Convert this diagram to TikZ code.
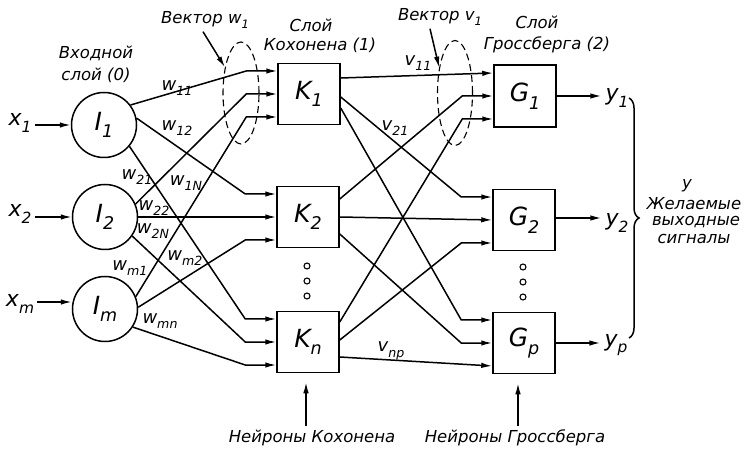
\documentclass[tikz,border=0pt]{standalone}
\usepackage{fontspec}
\usepackage{graphicx}
\setmainfont{DejaVu Sans}[ItalicFont={DejaVu Sans Oblique}]
\usetikzlibrary{arrows.meta,shapes.geometric,decorations.pathreplacing,calc}
\newcommand\lowsub[1]{\raisebox{-0.3em}{\scalebox{0.7}{#1}}}
\newcommand\fs[1]{\fontsize{#1}{#1}\selectfont\itshape}
\begin{document}
\begin{tikzpicture}[x=1pt,y=-1pt,
 arr/.style={line width=1.5pt,-{Latex[length=11pt,width=5.5pt]}},
 neur/.style={circle,draw,line width=1.5pt,minimum size=65pt,inner sep=0pt,font=\fs{25}},
 unit/.style={rectangle,draw,line width=1.5pt,minimum width=62pt,minimum height=61pt,inner sep=0pt,font=\fs{25}},
 lab/.style={inner sep=0pt,font=\fs{16.5}},
 wl/.style={inner sep=0pt,font=\fs{18}},
 sig/.style={inner sep=1pt,font=\fs{22}},
 dot/.style={circle,draw,line width=1.1pt,minimum size=6pt,inner sep=0pt},
 vec/.style={ellipse,draw,dash pattern=on 7pt off 4pt,line width=1.1pt,minimum width=36pt,minimum height=102pt,inner sep=0pt},
 brc/.style={line width=1.5pt,decorate,decoration={brace,amplitude=10pt}}
]
\useasboundingbox (0,0) rectangle (755,462);

% neurons
\node[neur] (I1) at (104,125) {I\lowsub{1}};
\node[neur] (I2) at (105,217) {I\lowsub{2}};
\node[neur] (Im) at (105,309) {I\lowsub{m}};
\node[unit] (K1) at (309,94) {K\lowsub{1}};
\node[unit] (K2) at (308,217) {K\lowsub{2}};
\node[unit] (Kn) at (308,342) {K\lowsub{n}};
\node[unit,minimum height=62pt] (G1) at (525,96) {G\lowsub{1}};
\node[unit] (G2) at (524,220) {G\lowsub{2}};
\node[unit] (Gp) at (524,343) {G\lowsub{p}};

\foreach \b in {K1,K2,Kn,G1,G2,Gp}{
 \coordinate (\b-a) at ($(\b.west)+(0,-23)$);
 \coordinate (\b-b) at (\b.west);
 \coordinate (\b-c) at ($(\b.west)+(0,23)$);
 \coordinate (\b-A) at ($(\b.west)+(-31,-23)$);
 \coordinate (\b-B) at ($(\b.west)+(-31,0)$);
 \coordinate (\b-C) at ($(\b.west)+(-31,23)$);
}

% inputs
\node[sig] (x1) at (20,123) {x\lowsub{1}};
\node[sig] (x2) at (20,214) {x\lowsub{2}};
\node[sig] (xm) at (20,304) {x\lowsub{m}};
\draw[arr] ([xshift=2pt]I1.west -| x1.east) -- (I1.west);
\draw[arr] ([xshift=2pt]I2.west -| x2.east) -- (I2.west);
\draw[arr] ([xshift=2pt,yshift=2pt]xm.east) -- ([yshift=2pt]xm.east -| Im.west);

% input layer -> Kohonen
\draw[arr] (I1.37) -- (K1-A) -- (K1-a);
\draw[arr] (I1.12) -- (K2-A) -- (K2-a);
\draw[arr] (I1.-40) -- (Kn-A) -- (Kn-a);
\draw[arr] (I2.23) -- (K1-B) -- (K1-b);
\draw[arr] (I2.0) -- (K2-b);
\draw[arr] (I2.-35) -- (Kn-B) -- (Kn-b);
\draw[arr] (Im.22) -- (K1-C) -- (K1-c);
\draw[arr] (Im.3) -- (K2-C) -- (K2-c);
\draw[arr] (Im.-33) -- (Kn-C) -- (Kn-c);

% Kohonen -> Grossberg
\draw[arr] ($(K1.east)+(0,-16)$) -- (G1-a);
\draw[arr] ($(K1.east)+(0,3)$) -- (G2-A) -- (G2-a);
\draw[arr] ($(K1.east)+(0,14)$) -- (Gp-A) -- (Gp-a);
\draw[arr] ($(K2.east)+(0,-18)$) -- (G1-B) -- (G1-b);
\draw[arr] (K2.east) -- (G2-b);
\draw[arr] ($(K2.east)+(0,17)$) -- (Gp-B) -- (Gp-b);
\draw[arr] ($(Kn.east)+(0,-20)$) -- (G1-C) -- (G1-c);
\draw[arr] ($(Kn.east)+(0,-2)$) -- (G2-C) -- (G2-c);
\draw[arr] ($(Kn.east)+(0,15)$) -- (Gp-c);

% outputs
\node[sig] (y1) at (617,98) {y\lowsub{1}};
\node[sig] (y2) at (617,223) {y\lowsub{2}};
\node[sig] (yp) at (616,345) {y\lowsub{p}};
\draw[arr] (G1.east) -- ([xshift=-3pt]G1.east -| y1.west);
\draw[arr] ([yshift=2pt]G2.east) -- ([xshift=-3pt,yshift=2pt]G2.east -| y2.west);
\draw[arr] (Gp.east) -- ([xshift=-3pt]Gp.east -| yp.west);

\coordinate (bt) at (629,98);
\coordinate (bb) at (629,338);
\draw[brc] (bt) -- (bb);
\node[lab] (bY) at (687,186) {y};
\node[lab] (bt1) at (694,204) {Желаемые};
\node[lab] (bt2) at (696,222) {выходные};
\node[lab] (bt3) at (694,239) {сигналы};

% dots
\foreach \y [count=\i] in {266,281,296}{
 \node[dot] (kd\i) at (307,\y) {};
 \node[dot] (gd\i) at (523,\y+1) {};
}

% vectors
\node[vec] (E1) at (241,93) {};
\node[vec,minimum width=35pt,minimum height=105pt] (E2) at (455,93) {};
\node[lab] (vw) at (205,20) {Вектор w\lowsub{1}};
\draw[arr] ($(vw.south)+(-2,3)$) -- (E1.122);
\node[lab] (vv) at (440,17) {Вектор v\lowsub{1}};
\draw[arr] ($(vv.south)+(-10,3)$) -- (E2.122);

% layer labels
\node[lab] (l0a) at (96,53) {Входной};
\node[lab] (l0b) at (96,75) {слой (0)};
\node[lab] (l1a) at (311,25) {Слой};
\node[lab] (l1b) at (320,45) {Кохонена (1)};
\node[lab] (l2a) at (537,22) {Слой};
\node[lab] (l2b) at (547,45) {Гроссберга (2)};

% weights
\node[wl] (w11) at (177,88) {w\lowsub{11}};
\node[wl] (w12) at (177,128) {w\lowsub{12}};
\node[wl] (w21) at (137,177) {w\lowsub{21}};
\node[wl] (w1N) at (186,183) {w\lowsub{1N}};
\node[wl] (w22) at (154,208) {w\lowsub{22}};
\node[wl] (w2N) at (153,231) {w\lowsub{2N}};
\node[wl] (wm2) at (185,258) {w\lowsub{m2}};
\node[wl] (wm1) at (130,268) {w\lowsub{m1}};
\node[wl] (wmn) at (160,321) {w\lowsub{mn}};
\node[wl] (v11) at (418,63) {v\lowsub{11}};
\node[wl] (v21) at (395,128) {v\lowsub{21}};
\node[wl] (vnp) at (391,351) {v\lowsub{np}};

% bottom labels
\node[lab] (nk) at (312,438) {Нейроны Кохонена};
\node[lab] (ng) at (515,438) {Нейроны Гроссберга};
\draw[arr] ($(nk.north -| Kn.south)+(-2,-4)$) -- ($(Kn.south)+(-2,9)$);
\draw[arr] ($(ng.north -| Gp.south)+(-6,-4)$) -- ($(Gp.south)+(-6,9)$);
\end{tikzpicture}
\end{document}
